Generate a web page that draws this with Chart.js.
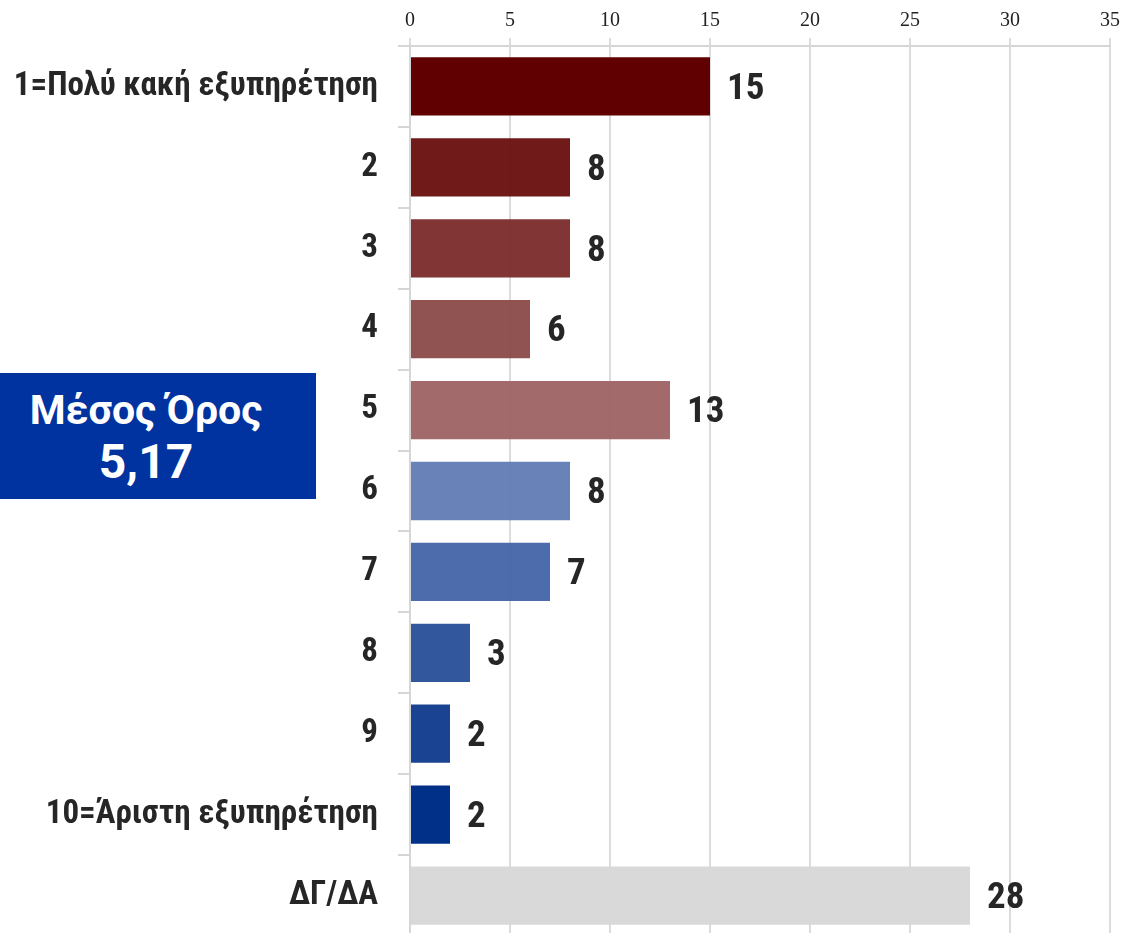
<!DOCTYPE html>
<html>
<head>
<meta charset="utf-8">
<script src="https://cdn.jsdelivr.net/npm/chart.js@4/dist/chart.umd.min.js"></script>
<style>
  html, body { margin: 0; padding: 0; background: #fff; overflow: hidden; }
  #wrap { position: relative; width: 1125px; height: 936px; }
  #avg {
    position: absolute; left: 0; top: 373px; width: 292px; height: 126px; padding-right: 24px;
    background: #0033a0; color: #fff; text-align: center;
    font-family: Roboto, "Liberation Sans", sans-serif; font-weight: bold;
  }
  #avg .t1 { font-size: 41px; line-height: 48px; margin-top: 13px; }
  #avg .t2 { font-size: 48px; line-height: 56px; }
</style>
</head>
<body>
<div id="wrap">
  <canvas id="chart" width="1125" height="936"></canvas>
  <div id="avg"><div class="t1">Μέσος Όρος</div><div class="t2">5,17</div></div>
</div>
<script>
// Data
const categories = ['1=Πολύ κακή εξυπηρέτηση', '2', '3', '4', '5', '6', '7', '8', '9', '10=Άριστη εξυπηρέτηση', 'ΔΓ/ΔΑ'];
const counts = [15, 8, 8, 6, 13, 8, 7, 3, 2, 2, 28];
const barColors = ['#600000', 'rgba(100,6,6,0.92)', 'rgba(118,36,36,0.92)', 'rgba(136,67,67,0.92)', 'rgba(154,93,93,0.92)',
                   'rgba(92,120,178,0.92)', 'rgba(62,96,165,0.92)', '#33579d', '#1a4391', '#003087', '#d9d9d9'];
const xTicks = [0, 5, 10, 15, 20, 25, 30, 35];

// value labels at the end of each bar
const valueLabels = {
  id: 'valueLabels',
  afterDatasetsDraw(chart) {
    const ctx = chart.ctx;
    const meta = chart.getDatasetMeta(0);
    ctx.save();
    ctx.font = 'bold condensed 37px Roboto, "Liberation Sans", sans-serif';
    ctx.fillStyle = '#262626';
    ctx.textAlign = 'left';
    ctx.textBaseline = 'middle';
    meta.data.forEach(function(bar, i) {
      ctx.fillText(counts[i], bar.x + 17, bar.y + 3);
    });
    ctx.restore();
  }
};

const ctx = document.getElementById('chart');
new Chart(ctx, {
  type: 'bar',
  data: {
    labels: categories,
    datasets: [{
      data: counts,
      backgroundColor: barColors,
      borderWidth: 0,
      categoryPercentage: 1,
      barPercentage: 0.72
    }]
  },
  options: {
    indexAxis: 'y',
    responsive: false,
    animation: false,
    layout: { padding: { left: 0, right: 15, top: 0, bottom: 0 } },
    plugins: { legend: { display: false }, tooltip: { enabled: false } },
    scales: {
      x: {
        position: 'top',
        min: 0, max: 35,
        afterBuildTicks(axis) { axis.ticks = xTicks.map(v => ({ value: v })); },
        afterFit(axis) { axis.height = 46; },
        grid: { color: '#dcdcdc', lineWidth: 2, tickLength: 8 },
        border: { display: true, color: '#d6d6d6', width: 2 },
        ticks: {
          padding: 5,
          color: '#222',
          font: { family: '"Liberation Serif", "DejaVu Serif", serif', size: 20 }
        }
      },
      y: {
        afterFit(axis) { axis.width = 410; axis.paddingTop = 0; axis.paddingBottom = 0; },
        grid: { drawOnChartArea: false, color: '#d6d6d6', lineWidth: 2, tickLength: 12, offset: true },
        border: { display: true, color: '#d6d6d6', width: 2 },
        ticks: {
          padding: 20,
          color: '#262626',
          font: { family: 'Roboto, "Liberation Sans", sans-serif', size: 33, weight: 'bold condensed' }
        }
      }
    }
  },
  plugins: [valueLabels]
});
</script>
</body>
</html>
